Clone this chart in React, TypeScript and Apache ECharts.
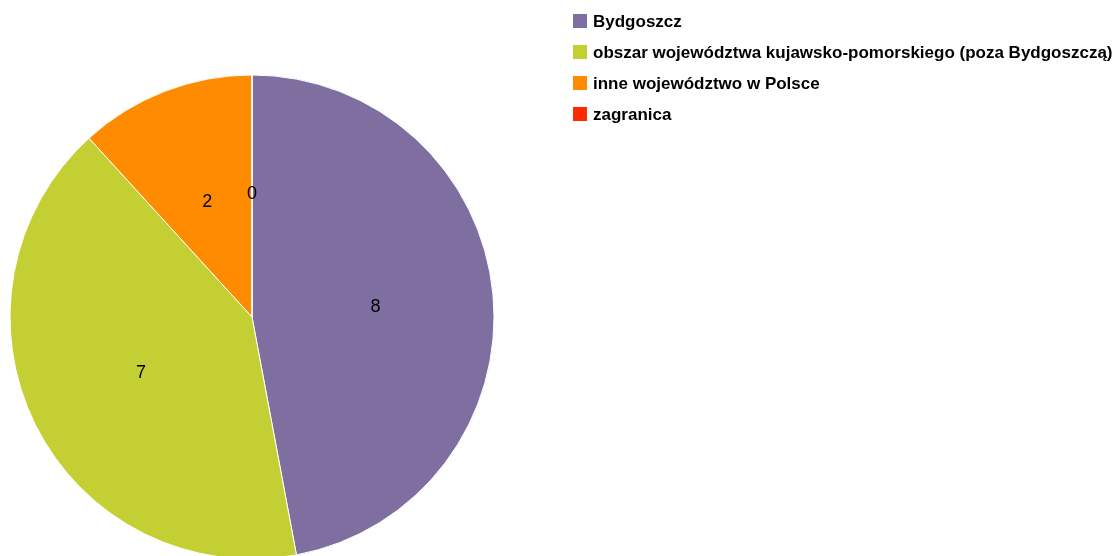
import React, { useEffect, useRef } from "react";
import * as echarts from "echarts";

const categories = [
  "Bydgoszcz",
  "obszar województwa kujawsko-pomorskiego (poza Bydgoszczą)",
  "inne województwo w Polsce",
  "zagranica",
];
const values = [8, 7, 2, 0];
const colors = ["#7f6ea0", "#c3cf33", "#ff8c00", "#ff2b00"];

export default function App() {
  const ref = useRef<HTMLDivElement>(null);
  useEffect(() => {
    if (!ref.current) return;
    const chart = echarts.init(ref.current, null, { renderer: "svg" });
    chart.setOption({
      animation: false,
      color: colors,
      legend: {
        orient: "vertical",
        left: 566,
        top: 7,
        padding: 5,
        itemWidth: 16,
        itemHeight: 16,
        itemGap: 13,
        icon: "rect",
        textStyle: {
          fontFamily: "Liberation Sans, Arial, sans-serif",
          fontSize: 17,
          fontWeight: "bold",
          color: "#000",
        },
        data: categories,
      },
      series: [
        {
          type: "pie",
          center: [252, 317],
          radius: 242,
          startAngle: 90,
          clockwise: true,
          avoidLabelOverlap: false,
          itemStyle: { borderColor: "#fff", borderWidth: 1 },
          label: {
            show: true,
            position: "inside",
            formatter: "{c}",
            color: "#000",
            fontSize: 18,
            padding: [8, 0, 0, 0],
            fontFamily: "Liberation Sans, Arial, sans-serif",
          },
          labelLine: { show: false },
          emphasis: { disabled: true },
          data: categories.map((name, i) => ({ name, value: values[i] })),
        },
      ],
    });
    return () => chart.dispose();
  }, []);
  return (
    <div
      ref={ref}
      style={{ position: "fixed", left: 0, top: 0, width: 1117, height: 556 }}
    />
  );
}
